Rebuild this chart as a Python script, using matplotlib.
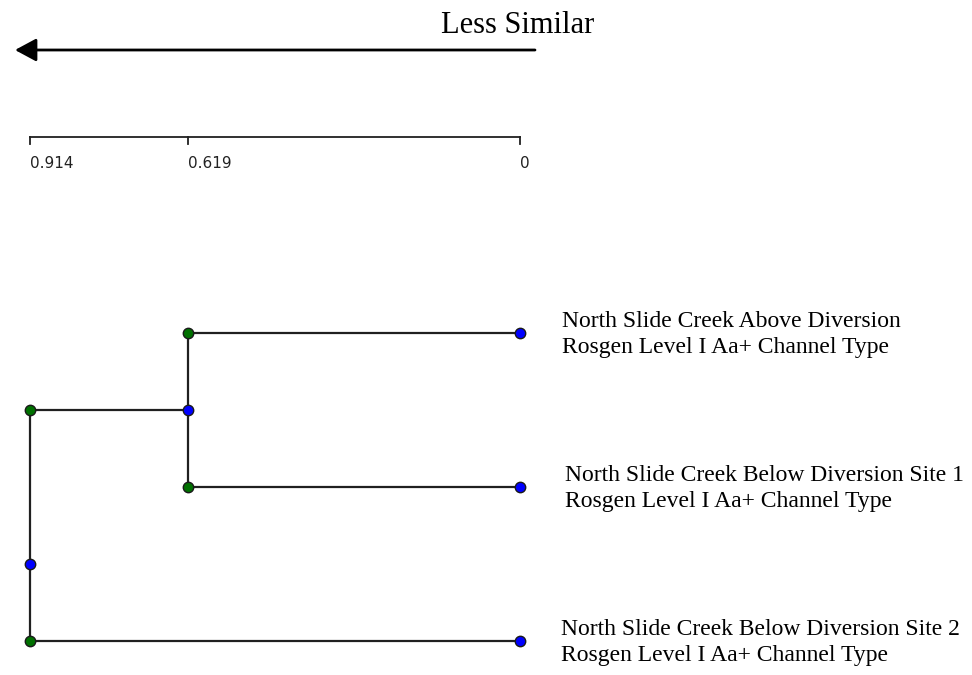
import matplotlib
matplotlib.use("Agg")
import matplotlib.pyplot as plt

# Dendrogram data: distance (less similar to the left)
leaf_labels = [
    "North Slide Creek Above Diversion\nRosgen Level I Aa+ Channel Type",
    "North Slide Creek Below Diversion Site 1\nRosgen Level I Aa+ Channel Type",
    "North Slide Creek Below Diversion Site 2\nRosgen Level I Aa+ Channel Type",
]
leaf_dist = [0.0, 0.0, 0.0]
leaf_rows = [0.0, 1.0, 2.0]

merge_dist = [0.619, 0.914]
# first merge joins leaves 0 and 1, second joins that cluster with leaf 2
merge1_rows = [0.0, 1.0]
merge1_mid = 0.5
merge2_rows = [0.5, 2.0]
merge2_mark = 1.5

scale_ticks = [0.914, 0.619, 0.0]
scale_labels = ["0.914", "0.619", "0"]
label_offsets = [0.078, 0.084, 0.077]

fig = plt.figure(figsize=(9.72, 6.75), dpi=100)
ax = fig.add_axes([0, 0, 1, 1])
px_per_unit = 490 / 0.914
ax.set_xlim(0.914 + 30 / px_per_unit, -452 / px_per_unit)
ax.set_ylim((675 - 333) / 154, -333 / 154)
ax.axis("off")

lc = "#202020"
lw = 1.6
green = "#007000"
blue = "#0000ff"
ms = 7.5

def node(x, y, color):
    ax.plot([x], [y], marker="o", ms=ms, mfc=color, mec="#1a1a1a", mew=1.0,
            zorder=5, linestyle="none")

# horizontal branches from leaves
for r, d in zip(merge1_rows, leaf_dist[:2]):
    ax.plot([merge_dist[0], d], [r, r], color=lc, lw=lw, zorder=2)
ax.plot([merge_dist[1], leaf_dist[2]], [leaf_rows[2], leaf_rows[2]], color=lc, lw=lw, zorder=2)
ax.plot([merge_dist[1], merge_dist[0]], [merge1_mid, merge1_mid], color=lc, lw=lw, zorder=2)

# vertical connectors
ax.plot([merge_dist[0]] * 2, merge1_rows, color=lc, lw=lw, zorder=2)
ax.plot([merge_dist[1]] * 2, merge2_rows, color=lc, lw=lw, zorder=2)

# node markers
for r in leaf_rows:
    node(0.0, r, blue)
for r in merge1_rows:
    node(merge_dist[0], r, green)
node(merge_dist[0], merge1_mid, blue)
for r in merge2_rows:
    node(merge_dist[1], r, green)
node(merge_dist[1], merge2_mark, blue)

# leaf labels
for r, lab, off in zip(leaf_rows, leaf_labels, label_offsets):
    ax.text(-off, r + 0.01, lab, ha="left", va="center", fontsize=17,
            family="Liberation Serif", linespacing=1.27, color="black")

# distance scale
sy = (137 - 333) / 154
ty = (144 - 333) / 154
ax.plot([scale_ticks[0], scale_ticks[-1]], [sy, sy], color=lc, lw=1.3)
for t, s in zip(scale_ticks, scale_labels):
    ax.plot([t, t], [sy, ty], color=lc, lw=1.3)
    ax.text(t, (163 - 333) / 154, s, ha="left", va="center", fontsize=11,
            family="DejaVu Sans", color="#222222")

# direction arrow and caption
ay = (50 - 333) / 154
ax.annotate("", xy=(0.914 + 15 / px_per_unit, ay), xytext=(-15 / px_per_unit, ay),
            arrowprops=dict(arrowstyle="-|>,head_length=1.3,head_width=0.7",
                            color="black", lw=2, shrinkA=0, shrinkB=0))
ax.text(2 / px_per_unit, (25 - 333) / 154, "Less Similar", ha="center", va="center",
        fontsize=22, family="Liberation Serif", color="black")

fig.savefig("out.png", dpi=100)
